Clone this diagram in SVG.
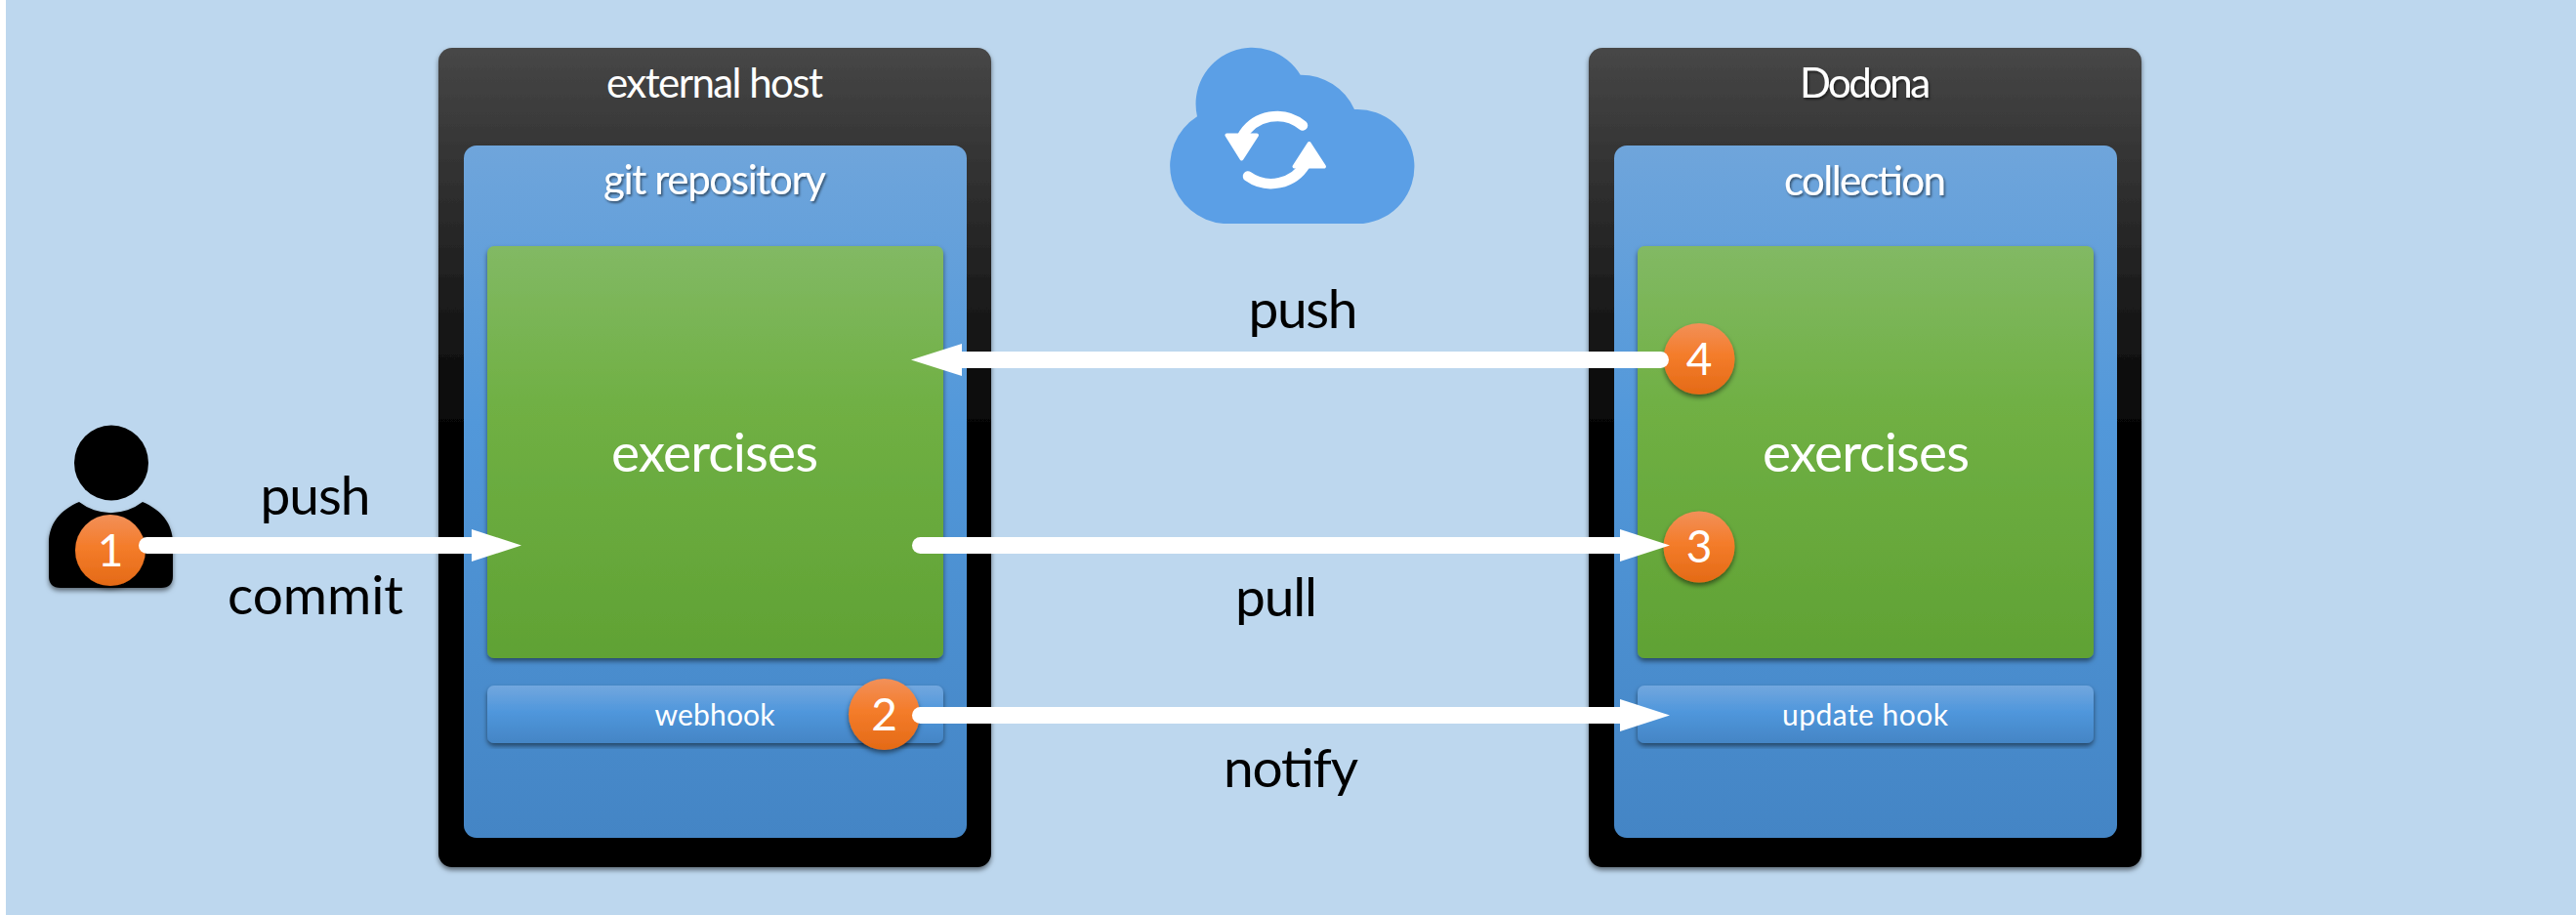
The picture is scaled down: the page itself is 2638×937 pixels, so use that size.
<svg xmlns="http://www.w3.org/2000/svg" width="2638" height="937" viewBox="0 0 2638 937">
<style>
text{font-family:"Lato","Carlito","Open Sans","Liberation Sans",sans-serif;text-anchor:middle}
.lbl{font-size:55px;fill:#000}
.ttl{font-size:42px;fill:#fff}
.big{font-size:55px;fill:#fff}
.sm{font-size:30px;fill:#fff}
.num{font-size:46px;fill:#fff}
.outer{fill:url(#gOuter);filter:url(#sh)}
.inner{fill:url(#gInner)}
.green{fill:url(#gGreen);filter:url(#sh)}
.hook{fill:url(#gHook);filter:url(#sh)}
.badge{fill:url(#gBadge);filter:url(#sh)}
.tsh{filter:url(#tshadow)}
.line{fill:none;stroke:#fff;stroke-width:17;stroke-linecap:round}
.head{fill:#fff}
</style>
<defs>
<linearGradient id="gOuter" x1="0" y1="0" x2="0" y2="1"><stop offset="0" stop-color="#474747"/><stop offset=".5" stop-color="#000"/><stop offset="1" stop-color="#000"/></linearGradient>
<linearGradient id="gInner" x1="0" y1="0" x2="0" y2="1"><stop offset="0" stop-color="#6fa5db"/><stop offset=".4" stop-color="#5298da"/><stop offset="1" stop-color="#4485c5"/></linearGradient>
<linearGradient id="gGreen" x1="0" y1="0" x2="0" y2="1"><stop offset="0" stop-color="#82b964"/><stop offset=".38" stop-color="#70b044"/><stop offset="1" stop-color="#60a234"/></linearGradient>
<linearGradient id="gHook" x1="0" y1="0" x2="0" y2="1"><stop offset="0" stop-color="#72a7de"/><stop offset=".45" stop-color="#5097dc"/><stop offset="1" stop-color="#4485c5"/></linearGradient>
<linearGradient id="gBadge" x1="0" y1="0" x2="0" y2="1"><stop offset="0" stop-color="#f29059"/><stop offset=".45" stop-color="#f47c2a"/><stop offset="1" stop-color="#e46a16"/></linearGradient>
<filter id="sh" x="-10%" y="-10%" width="120%" height="120%"><feDropShadow dx="0" dy="3" stdDeviation="2.500" flood-color="#000" flood-opacity=".5"/></filter>
<filter id="tshadow" x="-10%" y="-20%" width="120%" height="140%"><feDropShadow dx="1.500" dy="2" stdDeviation="1" flood-color="#000" flood-opacity=".5"/></filter>
</defs>
<rect id="page" x="0" y="0" width="2638" height="937" fill="#fff"/>
<rect id="background" x="6" y="0" width="2632" height="937" fill="#bdd7ee"/>

<g id="person">
<ellipse cx="114" cy="474" rx="38" ry="38.500" fill="#000"/>
<path d="M81 514 A53 53 0 0 0 146 514 C165 522 177 536 177 556 L177 590 Q177 602 165 602 L62 602 Q50 602 50 590 L50 556 C50 536 62 522 81 514 Z" fill="#000" filter="url(#sh)"/>
</g>

<g id="external-host">
<rect class="outer" x="449" y="49" width="566" height="839" rx="14"/>
<text class="ttl" x="732" y="100" textLength="222">external host</text>
</g>
<g id="git-repository">
<rect class="inner" x="475" y="149" width="515" height="709" rx="13"/>
<text class="ttl tsh" x="732" y="199" textLength="228">git repository</text>
</g>
<g id="exercises-left">
<rect class="green" x="499" y="252" width="467" height="422" rx="7"/>
<text class="big" x="732" y="483" textLength="212">exercises</text>
</g>
<g id="webhook">
<rect class="hook" x="499" y="702" width="467" height="59" rx="7"/>
<text class="sm" x="732" y="743" textLength="123">webhook</text>
</g>

<g id="dodona">
<rect class="outer" x="1627" y="49" width="566" height="839" rx="14"/>
<text class="ttl tsh" x="1910" y="100" textLength="134">Dodona</text>
</g>
<g id="collection">
<rect class="inner" x="1653" y="149" width="515" height="709" rx="13"/>
<text class="ttl tsh" x="1910" y="200" textLength="166">collection</text>
</g>
<g id="exercises-right">
<rect class="green" x="1677" y="252" width="467" height="422" rx="7"/>
<text class="big" x="1911" y="483" textLength="212">exercises</text>
</g>
<g id="update-hook">
<rect class="hook" x="1677" y="702" width="467" height="59" rx="7"/>
<text class="sm" x="1910" y="743" textLength="170">update hook</text>
</g>

<g id="cloud">
<path d="M1253 229 A59.500 59.500 0 0 1 1226 119.300 A57.700 57.700 0 0 1 1331.700 76.700 A60 60 0 0 1 1387 112 A58.700 58.700 0 0 1 1396 229 Z" fill="#5b9fe6"/>
<g fill="none" stroke="#fff" stroke-width="10.500" stroke-linecap="round">
<path d="M1334 128.500 A41 41 0 0 0 1272 140"/>
<path d="M1278 180.500 A41 41 0 0 0 1337 168"/>
</g>
<g fill="#fff" stroke="#fff" stroke-width="4" stroke-linejoin="round">
<path d="M1256.500 138.500 H1287 L1271.500 162.500 Z"/>
<path d="M1340.700 147 L1356 170.500 H1325.500 Z"/>
</g>
</g>

<g id="badges-back">
<g id="badge-1"><ellipse class="badge" cx="113" cy="563.500" rx="36" ry="36.500"/><text class="num" x="113" y="580">1</text></g>
<g id="badge-3"><ellipse class="badge" cx="1740" cy="560" rx="36.500" ry="36.500"/><text class="num" x="1740" y="576">3</text></g>
<g id="badge-4"><ellipse class="badge" cx="1740" cy="367.500" rx="36.500" ry="36.500"/><text class="num" x="1740" y="384">4</text></g>
<g id="badge-2"><ellipse class="badge" cx="905.500" cy="731.500" rx="36.500" ry="36.500"/><text class="num" x="905.500" y="748">2</text></g>
</g>

<g id="connectors">
<path class="line" d="M150.500 558.500 H490"/><path class="head" d="M483 542 L534 558.500 L483 575 Z"/>
<path class="line" d="M942.500 732.500 H1665"/><path class="head" d="M1659 716 L1710 732.500 L1659 749 Z"/>
<path class="line" d="M942.500 558.500 H1665"/><path class="head" d="M1659 542 L1710 558.500 L1659 575 Z"/>
<path class="line" d="M1700.500 368.500 H980"/><path class="head" d="M985 352 L933 368.500 L985 385 Z"/>
</g>

<g id="labels">
<text class="lbl" x="323" y="527" textLength="113">push</text>
<text class="lbl" x="323" y="629" textLength="180">commit</text>
<text class="lbl" x="1334.500" y="336" textLength="112">push</text>
<text class="lbl" x="1307" y="631" textLength="84">pull</text>
<text class="lbl" x="1322" y="806" textLength="138">notify</text>
</g>
</svg>
